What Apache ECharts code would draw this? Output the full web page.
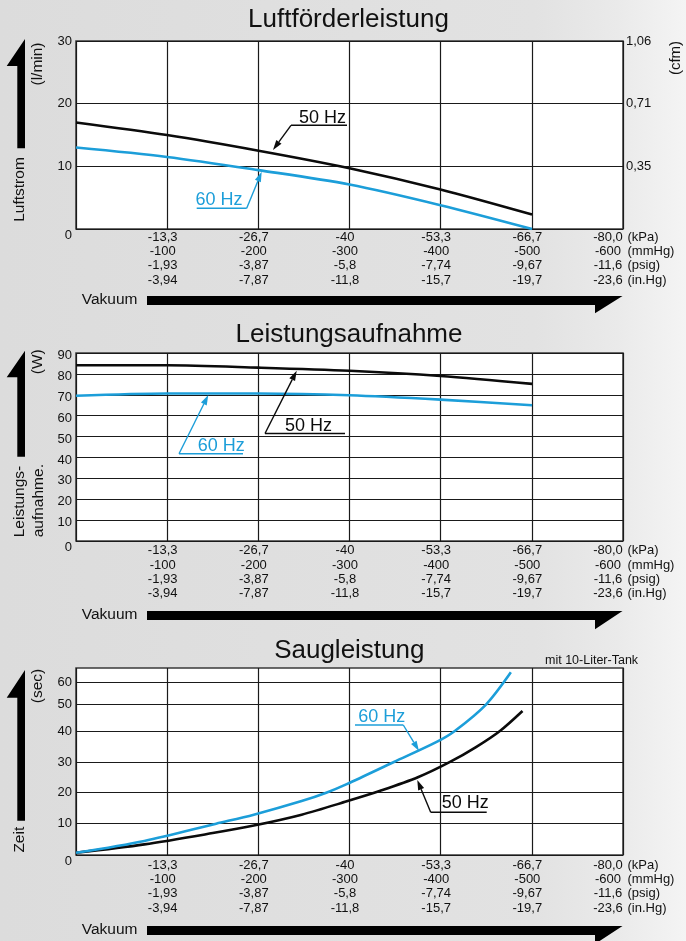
<!DOCTYPE html>
<html>
<head>
<meta charset="utf-8" />
<title>Luftförderleistung - Leistungsaufnahme - Saugleistung</title>
<script src="https://cdn.jsdelivr.net/npm/echarts@6/dist/echarts.min.js"></script>
<style type="text/css">
body, html {
	margin: 0;
	padding: 0;
}
#chart {
	width: 686px;
	height: 941px;
}
</style>
</head>
<body>
<div id="chart"></div>
<script>
// Vakuum-Stützstellen (kPa) für Luftstrom und Leistung
const vacKpa = [0, -13.3, -26.7, -40, -53.3, -66.7];
const flow50 = [17.0, 15.0, 12.5, 9.7, 6.3, 2.3];
const flow60 = [13.0, 11.5, 9.4, 7.1, 3.8, 0.0];
const power50 = [84.1, 84.1, 83.0, 81.5, 79.0, 75.2];
const power60 = [69.5, 70.6, 70.6, 69.8, 67.7, 65.0];

// Saugzeit mit 10-Liter-Tank (sec)
const tankKpa50 = [0, -10, -20, -26, -33, -39.6, -44.5, -50, -54.7, -58.5, -62, -65.3];
const time50 = [0.7, 3.4, 7.0, 9.4, 12.9, 17.2, 20.6, 25.0, 30.0, 34.8, 40.0, 47.5];
const tankKpa60 = [0, -10, -20.5, -26, -33, -36.6, -39.6, -46.5, -52.6, -55.4, -60, -63.6];
const time60 = [0.7, 4.5, 10.0, 12.9, 17.3, 20.0, 22.8, 30.0, 36.3, 40.0, 50.0, 64.5];

// Achsbeschriftungen
const kpaLabels = ['', '-13,3', '-26,7', '-40', '-53,3', '-66,7', '-80,0'];
const mmhgLabels = ['', '-100', '-200', '-300', '-400', '-500', '-600'];
const psigLabels = ['', '-1,93', '-3,87', '-5,8', '-7,74', '-9,67', '-11,6'];
const inhgLabels = ['', '-3,94', '-7,87', '-11,8', '-15,7', '-19,7', '-23,6'];
const unitLabels = ['(kPa)', '(mmHg)', '(psig)', '(in.Hg)'];
const cfmLabels = ['', '0,35', '0,71', '1,06'];
const secTicks = [0, 10, 20, 30, 40, 50, 60];

// Saugleistung: Raster im Original ist oben gestaucht -> Skala stückweise
const secScale = [0, 10.1, 20.1, 30, 40, 48.6, 55.7];
function toDisp(v) {
	let i = 0;
	while (i < secTicks.length - 2 && v > secTicks[i + 1]) i++;
	const t = (v - secTicks[i]) / (secTicks[i + 1] - secTicks[i]);
	return secScale[i] + t * (secScale[i + 1] - secScale[i]);
}

const FONT = '"Liberation Sans", Arial, Helvetica, sans-serif';
const BLACK = '#0b0b0b';
const BLUE = '#1c9ed9';
const ROW = 14.3;

function vacLabel(value) {
	let i = Math.round(-value / (80 / 6));
	if (i <= 0) return '';
	let rows = [kpaLabels[i], mmhgLabels[i], psigLabels[i], inhgLabels[i]];
	// letzte Spalte etwas nach links, Einheiten stehen rechts daneben
	let sp = i === 6 ? '{t| }' : '{s| }';
	return rows.map(function (r) { return '{c|' + r + '}' + sp; }).join('\n');
}

function xAxisFor(grid, margin) {
	return {
		gridIndex: grid,
		type: 'value',
		min: -80,
		max: 0,
		interval: 80 / 6,
		inverse: true,
		axisLine: {show: false},
		axisTick: {show: false},
		splitLine: {show: true, lineStyle: {color: '#1a1a1a', width: 1.2}},
		axisLabel: {
			margin: margin,
			showMinLabel: true,
			showMaxLabel: true,
			color: '#111',
			fontSize: 13,
			fontFamily: FONT,
			formatter: vacLabel,
			rich: {
				c: {width: 46, align: 'center', lineHeight: ROW},
				s: {width: 9, lineHeight: ROW},
				t: {width: 30, lineHeight: ROW}
			}
		}
	};
}

function yLabel(shift) {
	return {
		margin: 4,
		color: '#111',
		fontSize: 13,
		fontFamily: FONT,
		formatter: function (v) {
			return v === 0 ? '{z|0}' : '{m|' + v + '}';
		},
		rich: {
			z: {padding: [13, 0, 0, 0]},
			m: {padding: [shift, 0, 0, 0]}
		}
	};
}

function lineSeries(name, xi, yi, xs, ys, color, conv) {
	return {
		name: name,
		type: 'line',
		xAxisIndex: xi,
		yAxisIndex: yi,
		showSymbol: false,
		smooth: 0.3,
		lineStyle: {color: color, width: 2.6},
		itemStyle: {color: color},
		data: xs.map(function (x, i) { return [x, conv ? conv(ys[i]) : ys[i]]; }),
		z: 5
	};
}

// Grafik-Helfer
function txt(text, x, y, size, opts) {
	opts = opts || {};
	return {
		type: 'text',
		x: x,
		y: y,
		rotation: opts.rot || 0,
		z: 20,
		style: {
			text: text,
			font: size + 'px ' + FONT,
			fill: opts.color || '#111',
			align: opts.align || 'center',
			textAlign: opts.align || 'center',
			verticalAlign: 'middle',
			textVerticalAlign: 'middle'
		}
	};
}

function seg(x1, y1, x2, y2, color, w) {
	return {
		type: 'line',
		z: 20,
		shape: {x1: x1, y1: y1, x2: x2, y2: y2},
		style: {stroke: color, lineWidth: w || 1.3}
	};
}

function callout(label, color, tx, ty, ux1, ux2, uy, sx, tipX, tipY) {
	let dx = tipX - sx, dy = tipY - uy;
	let len = Math.sqrt(dx * dx + dy * dy);
	let ux = dx / len, uyv = dy / len;
	let bx = tipX - ux * 10, by = tipY - uyv * 10;
	let px = -uyv * 3.2, py = ux * 3.2;
	return [
		txt(label, tx, ty, 18, {color: color, align: 'left'}),
		seg(ux1, uy, ux2, uy, color, 1.4),
		seg(sx, uy, bx, by, color, 1.4),
		{
			type: 'polygon', z: 20,
			shape: {points: [[tipX, tipY], [bx + px, by + py], [bx - px, by - py]]},
			style: {fill: color}
		}
	];
}

function upArrow(tip, corner, bottom) {
	return {
		type: 'polygon', z: 20,
		shape: {points: [[25, tip], [25, bottom], [17.3, bottom], [17.3, corner], [6.7, corner]]},
		style: {fill: '#000'}
	};
}

function vakuum(top, bottom, corner) {
	return [
		txt('Vakuum', 137.5, (top + bottom) / 2 - 0.5, 15.5, {align: 'right'}),
		{
			type: 'polygon', z: 20,
			shape: {points: [[147, top], [622.5, top], [595, corner], [595, bottom], [147, bottom]]},
			style: {fill: '#000'}
		}
	];
}

function units(firstRow) {
	return unitLabels.map(function (u, k) {
		return txt(u, 627.5, firstRow + k * ROW, 13, {align: 'left'});
	});
}

let graphics = [].concat(
	// Luftförderleistung
	txt('Luftförderleistung', 348.5, 19.5, 26),
	upArrow(39, 66, 148.3),
	txt('Luftstrom', 19.5, 189.5, 15.5, {rot: Math.PI / 2}),
	txt('(l/min)', 37.5, 64, 15.5, {rot: Math.PI / 2}),
	txt('(cfm)', 675.5, 58, 15, {rot: Math.PI / 2}),
	callout('50 Hz', BLACK, 299, 118.5, 291, 347, 125.3, 291, 273, 150),
	callout('60 Hz', BLUE, 195.5, 200, 196.7, 246.7, 208.3, 246.7, 261.7, 171.7),
	units(229 + 1 + ROW / 2),
	vakuum(296, 305, 313.3),
	// Leistungsaufnahme
	txt('Leistungsaufnahme', 349, 334.5, 26),
	upArrow(350.7, 377.3, 456.7),
	txt('(W)', 38, 361.7, 15.5, {rot: Math.PI / 2}),
	txt('Leistungs-', 20, 537.3, 15.5, {rot: Math.PI / 2, align: 'left'}),
	txt('aufnahme.', 38.5, 537.3, 15.5, {rot: Math.PI / 2, align: 'left'}),
	callout('50 Hz', BLACK, 285, 426, 265, 345, 433.5, 265, 296.7, 370.7),
	callout('60 Hz', BLUE, 197.7, 446, 179, 243, 453.7, 179, 208.3, 395),
	units(541 + 2.5 + ROW / 2),
	vakuum(611, 620, 629.3),
	// Saugleistung
	txt('Saugleistung', 349.3, 650.5, 26),
	txt('mit 10-Liter-Tank', 545, 661, 12.5, {align: 'left'}),
	upArrow(670, 697.7, 820.7),
	txt('(sec)', 38, 686, 15.5, {rot: Math.PI / 2}),
	txt('Zeit', 20, 839.7, 15.5, {rot: Math.PI / 2}),
	callout('60 Hz', BLUE, 358.3, 716.7, 355, 403.3, 725, 403.3, 419, 751),
	callout('50 Hz', BLACK, 441.7, 803.3, 430.7, 486.7, 812.3, 430.7, 417.3, 780),
	units(855 + 3 + ROW / 2),
	vakuum(926, 935, 944)
);

let gridStyle = {show: true, backgroundColor: '#ffffff', borderColor: '#3a3a3a', borderWidth: 1.5};

let chart = echarts.init(document.getElementById('chart'));
chart.setOption({
	animation: false,
	backgroundColor: {
		type: 'linear', x: 0, y: 0, x2: 1, y2: 0,
		colorStops: [
			{offset: 0, color: '#dcdcdc'},
			{offset: 0.78, color: '#e2e2e2'},
			{offset: 0.9, color: '#eaeaea'},
			{offset: 1, color: '#f4f4f4'}
		]
	},
	textStyle: {fontFamily: FONT},
	grid: [
		Object.assign({left: 76, width: 547, top: 41, height: 188}, gridStyle),
		Object.assign({left: 76, width: 547, top: 353, height: 188}, gridStyle),
		Object.assign({left: 76, width: 547, top: 668, height: 187}, gridStyle)
	],
	xAxis: [xAxisFor(0, 1), xAxisFor(1, 2.5), xAxisFor(2, 3)],
	yAxis: [
		{
			gridIndex: 0, type: 'value', min: 0, max: 30, interval: 10,
			axisLine: {show: false}, axisTick: {show: false},
			splitLine: {lineStyle: {color: '#1a1a1a', width: 1.2}},
			axisLabel: yLabel(0)
		},
		{
			gridIndex: 0, type: 'value', position: 'right', min: 0, max: 30, interval: 10,
			axisLine: {show: false}, axisTick: {show: false}, splitLine: {show: false},
			axisLabel: {
				margin: 3, color: '#111', fontSize: 13, fontFamily: FONT,
				formatter: function (v) { return cfmLabels[Math.round(v / 10)]; }
			}
		},
		{
			gridIndex: 1, type: 'value', min: 0, max: 90, interval: 10,
			axisLine: {show: false}, axisTick: {show: false},
			splitLine: {lineStyle: {color: '#1a1a1a', width: 1.2}},
			axisLabel: yLabel(5)
		},
		{
			gridIndex: 2, type: 'value', min: 0, max: 60.3,
			axisLine: {show: false},
			axisTick: {show: false, customValues: secTicks.map(toDisp)},
			splitLine: {lineStyle: {color: '#1a1a1a', width: 1.2}},
			axisLabel: Object.assign(yLabel(0), {
				customValues: secTicks.map(toDisp),
				formatter: function (v) {
					for (let i = 0; i < secTicks.length; i++) {
						if (Math.abs(toDisp(secTicks[i]) - v) < 0.01) {
							return i === 0 ? '{z|0}' : '{m|' + secTicks[i] + '}';
						}
					}
					return '';
				}
			})
		}
	],
	series: [
		lineSeries('50 Hz', 0, 0, vacKpa, flow50, BLACK),
		lineSeries('60 Hz', 0, 0, vacKpa, flow60, BLUE),
		lineSeries('50 Hz', 1, 2, vacKpa, power50, BLACK),
		lineSeries('60 Hz', 1, 2, vacKpa, power60, BLUE),
		lineSeries('50 Hz', 2, 3, tankKpa50, time50, BLACK, toDisp),
		lineSeries('60 Hz', 2, 3, tankKpa60, time60, BLUE, toDisp)
	],
	graphic: graphics
});
</script>
</body>
</html>
